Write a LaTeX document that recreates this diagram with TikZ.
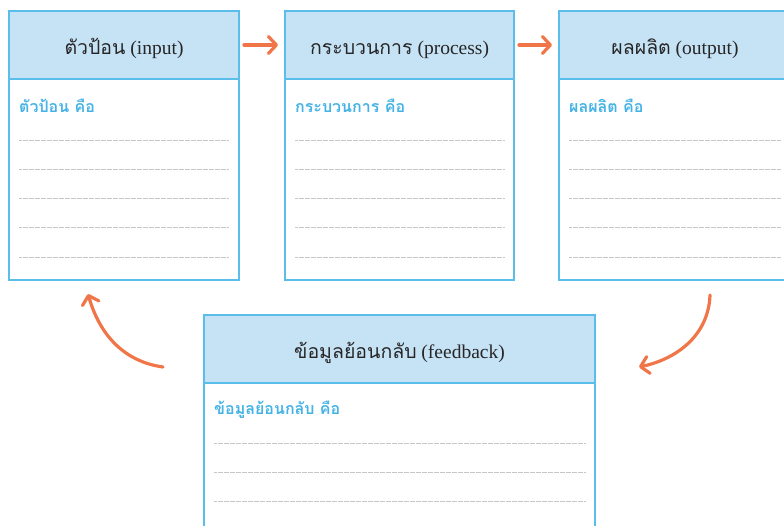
\documentclass[tikz,border=0pt]{standalone}
\usepackage{fontspec}
\setmainfont{Liberation Serif}
\newfontfamily\thaifont[Script=Thai]{Loma}
\usetikzlibrary{arrows.meta,calc}

\definecolor{edgeblue}{HTML}{5BBDEA}
\definecolor{headfill}{HTML}{C6E2F5}
\definecolor{labelblue}{HTML}{45B3E6}
\definecolor{flowor}{HTML}{F0764A}
\definecolor{titlegray}{HTML}{262626}

\tikzset{
  card/.style={draw=edgeblue, line width=1.8pt, fill=white, inner sep=0pt,
    outer sep=0pt, anchor=north west},
  cardhead/.style={draw=edgeblue, line width=1.8pt, fill=headfill, inner sep=0pt,
    outer sep=0pt, anchor=north, minimum height=68pt,
    text height=20pt, text depth=1pt,
    font=\fontsize{19.5}{22}\selectfont, text=titlegray},
  cardlabel/.style={anchor=west, inner sep=0pt, text=labelblue,
    font=\thaifont\bfseries\fontsize{16}{18}\selectfont},
  ruling/.style={draw=gray!45, line width=0.5pt, dash pattern=on 0.5pt off 0.7pt},
  flow/.style={draw=flowor, line width=3.2pt, line cap=round, line join=round,
    -{Straight Barb[length=8pt, width=17pt, line cap=round, line join=round]}}
}

% card: name, x, y, width, height, title, label, number of ruled lines, first line offset
\newcommand\makecard[9]{%
  \node[card, minimum width=#4, minimum height=#5] (#1) at (#2,#3) {};
  \node[cardhead, minimum width=#4] (#1H) at (#1.north) {#6};
  \node[cardlabel] (#1L) at ([xshift=10pt,yshift=-27pt]#1H.south west) {#7};
  \foreach \k in {1,...,#8}{%
    \draw[ruling] ([xshift=10pt,yshift={-(#9+29.25*(\k-1))*1pt}]#1H.south west)
      -- ([xshift=-10pt,yshift={-(#9+29.25*(\k-1))*1pt}]#1H.south east);}%
}

\begin{document}
\begin{tikzpicture}[x=1pt,y=-1pt]
  \useasboundingbox (0,0) rectangle (784,526);
  \clip (0,0) rectangle (784,526);

  \makecard{in}{9}{11}{230pt}{269pt}{{\thaifont ตัวป้อน} (input)}{ตัวป้อน คือ}{5}{61}
  \makecard{pr}{285}{11}{229pt}{269pt}{{\thaifont กระบวนการ} (process)}{กระบวนการ คือ}{5}{61}
  \makecard{ou}{559}{11}{232pt}{269pt}{{\thaifont ผลผลิต} (output)}{ผลผลิต คือ}{5}{61}
  \makecard{fb}{204}{315}{391pt}{260pt}{{\thaifont ข้อมูลย้อนกลับ} (feedback)}{ข้อมูลย้อนกลับ คือ}{4}{60}

  % forward flow between the top cards
  \draw[flow] ([xshift=5pt]inH.east) -- ([xshift=-7pt]prH.west);
  \draw[flow] ([xshift=5pt]prH.east) -- ([xshift=-7pt]ouH.west);

  % output bends down into feedback, feedback bends back up into input
  \draw[flow] ([xshift=35pt,yshift=-15pt]ou.south)
    to[out=-92,in=12] ([xshift=44pt,yshift=-18pt]fbH.east);
  \draw[flow] ([xshift=-41pt,yshift=-18pt]fbH.west)
    to[out=172,in=-74] ([xshift=-36pt,yshift=-14pt]in.south);
\end{tikzpicture}
\end{document}
